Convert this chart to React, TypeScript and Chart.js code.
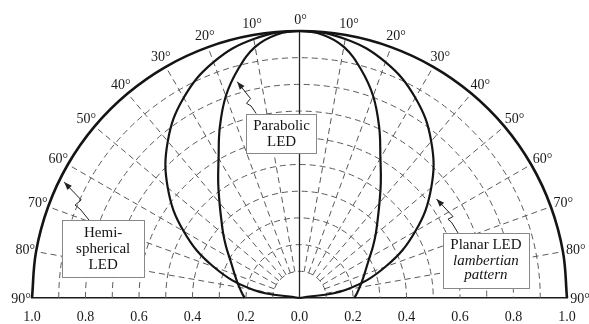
import React, { useEffect, useRef } from "react";
import { Chart, registerables } from "chart.js";

Chart.register(...registerables);

// ---- data ----
// angle tick labels around the semicircle (degrees from vertical, negative = left)
const angleTicks = [-90, -80, -70, -60, -50, -40, -30, -20, -10, 0, 10, 20, 30, 40, 50, 60, 70, 80, 90];
// dashed polar grid
const gridRadii = [0.1, 0.2, 0.3, 0.4, 0.5, 0.6, 0.7, 0.8, 0.9];
const gridAngles = [-80, -70, -60, -50, -40, -30, -20, -10, 10, 20, 30, 40, 50, 60, 70, 80];

// Hemispherical LED: relative intensity vs angle
const hemiAngles = [-90, -80, -70, -60, -50, -40, -30, -20, -10, 0, 10, 20, 30, 40, 50, 60, 70, 80, 90];
const hemiR = [1.0, 1.0, 1.0, 1.0, 1.0, 1.0, 1.0, 1.0, 1.0, 1.0, 1.0, 1.0, 1.0, 1.0, 1.0, 1.0, 1.0, 1.0, 1.0];

// Planar LED (lambertian pattern)
const lambAngles = [-90, -80, -70, -60, -50, -40, -30, -20, -10, 0, 10, 20, 30, 40, 50, 60, 70, 80, 90];
const lambR = [0.0, 0.174, 0.342, 0.5, 0.643, 0.766, 0.866, 0.94, 0.985, 1.0, 0.985, 0.94, 0.866, 0.766, 0.643, 0.5, 0.342, 0.174, 0.0];

// Parabolic LED
const paraAngles = [-90, -85, -80, -75, -70, -65, -60, -55, -50, -45, -40, -35, -30, -25, -20, -15, -10, -5, 0, 5, 10, 15, 20, 25, 30, 35, 40, 45, 50, 55, 60, 65, 70, 75, 80, 85, 90];
const paraR = [0.205, 0.216, 0.228, 0.242, 0.258, 0.277, 0.302, 0.335, 0.372, 0.413, 0.465, 0.53, 0.605, 0.705, 0.805, 0.887, 0.955, 0.99, 1.0, 0.99, 0.955, 0.887, 0.805, 0.705, 0.605, 0.53, 0.465, 0.413, 0.372, 0.335, 0.302, 0.277, 0.258, 0.242, 0.228, 0.216, 0.205];

// annotation texts
const paraLabel = ["Parabolic", "LED"];
const hemiLabel = ["Hemi-", "spherical", "LED"];
const planarLabel = ["Planar LED", "lambertian", "pattern"];

// annotation geometry (data units)
const boxes = [
  { lines: paraLabel, italic: [false, false], x0: -0.199, x1: 0.064, y0: 0.689, y1: 0.543, cx: -0.067, ly: [0.644, 0.584] },
  { lines: hemiLabel, italic: [false, false, false], x0: -0.888, x1: -0.581, y0: 0.292, y1: 0.079, cx: -0.734, ly: [0.245, 0.185, 0.125] },
  { lines: planarLabel, italic: [false, true, true], x0: 0.536, x1: 0.858, y0: 0.243, y1: 0.037, cx: 0.697, ly: [0.2, 0.137, 0.086] },
];
const arrows = [
  [[-0.233, 0.81], [-0.183, 0.747], [-0.198, 0.729], [-0.181, 0.719], [-0.162, 0.691]],
  [[-0.88, 0.434], [-0.816, 0.367], [-0.839, 0.348], [-0.82, 0.333], [-0.787, 0.292]],
  [[0.512, 0.371], [0.574, 0.305], [0.555, 0.295], [0.568, 0.284], [0.593, 0.243]],
];

const toXY = (angles: number[], rs: number[]) =>
  angles.map((a, i) => ({
    x: rs[i] * Math.sin((a * Math.PI) / 180),
    y: rs[i] * Math.cos((a * Math.PI) / 180),
  }));

const SERIF = "'Liberation Serif', 'DejaVu Serif', serif";

const polarPlugin = {
  id: "polarDeco",
  beforeDatasetsDraw(chart: any) {
    const { ctx, scales } = chart;
    const xs = scales.x, ys = scales.y;
    const cx = xs.getPixelForValue(0), cy = ys.getPixelForValue(0);
    const ux = xs.getPixelForValue(1) - cx, uy = cy - ys.getPixelForValue(1);
    ctx.save();
    ctx.strokeStyle = "#5a5a5a";
    ctx.lineWidth = 1;
    ctx.setLineDash([6, 4]);
    for (const r of gridRadii) {
      ctx.beginPath();
      ctx.ellipse(cx, cy, r * ux, r * uy, 0, Math.PI, 2 * Math.PI);
      ctx.stroke();
    }
    for (const a of gridAngles) {
      const s = Math.sin((a * Math.PI) / 180), c = Math.cos((a * Math.PI) / 180);
      ctx.beginPath();
      ctx.moveTo(cx + 0.1 * s * ux, cy - 0.1 * c * uy);
      ctx.lineTo(cx + 1.0 * s * ux, cy - 1.0 * c * uy);
      ctx.stroke();
    }
    ctx.setLineDash([]);
    ctx.strokeStyle = "#222";
    ctx.lineWidth = 1.3;
    ctx.beginPath();
    ctx.moveTo(cx, cy);
    ctx.lineTo(cx, ys.getPixelForValue(1));
    ctx.stroke();
    ctx.restore();
  },
  afterDatasetsDraw(chart: any) {
    const { ctx, scales } = chart;
    const xs = scales.x, ys = scales.y;
    const px = (v: number) => xs.getPixelForValue(v);
    const py = (v: number) => ys.getPixelForValue(v);
    ctx.save();
    // arrows
    ctx.strokeStyle = "#222";
    ctx.fillStyle = "#222";
    ctx.lineWidth = 1;
    for (const pts of arrows) {
      ctx.beginPath();
      pts.forEach((p, i) => {
        if (i === 0) ctx.moveTo(px(p[0]), py(p[1]));
        else ctx.lineTo(px(p[0]), py(p[1]));
      });
      ctx.stroke();
      const tx = px(pts[0][0]), ty = py(pts[0][1]);
      const ax = px(pts[1][0]), ay = py(pts[1][1]);
      const ang = Math.atan2(ty - ay, tx - ax);
      const L = 8, W = 3;
      ctx.beginPath();
      ctx.moveTo(tx, ty);
      ctx.lineTo(tx - L * Math.cos(ang) + W * Math.sin(ang), ty - L * Math.sin(ang) - W * Math.cos(ang));
      ctx.lineTo(tx - L * Math.cos(ang) - W * Math.sin(ang), ty - L * Math.sin(ang) + W * Math.cos(ang));
      ctx.closePath();
      ctx.fill();
    }
    // boxes
    for (const b of boxes) {
      const x0 = px(b.x0), x1 = px(b.x1), y0 = py(b.y0), y1 = py(b.y1);
      ctx.fillStyle = "#fff";
      ctx.fillRect(x0, y0, x1 - x0, y1 - y0);
      ctx.strokeStyle = "#888";
      ctx.lineWidth = 1;
      ctx.strokeRect(Math.round(x0) + 0.5, Math.round(y0) + 0.5, Math.round(x1 - x0), Math.round(y1 - y0));
      ctx.fillStyle = "#151515";
      ctx.textAlign = "center";
      ctx.textBaseline = "middle";
      b.lines.forEach((t, i) => {
        ctx.font = (b.italic[i] ? "italic " : "") + "15px " + SERIF;
        ctx.fillText(t, px(b.cx), py(b.ly[i]));
      });
    }
    ctx.restore();
  },
  afterDraw(chart: any) {
    const { ctx, scales } = chart;
    const xs = scales.x, ys = scales.y;
    const cx = xs.getPixelForValue(0), cy = ys.getPixelForValue(0);
    const ux = xs.getPixelForValue(1) - cx, uy = cy - ys.getPixelForValue(1);
    ctx.save();
    ctx.fillStyle = "#1a1a1a";
    ctx.font = "14px " + SERIF;
    ctx.textAlign = "center";
    ctx.textBaseline = "middle";
    const R = 1.045;
    for (const a of angleTicks) {
      const s = Math.sin((a * Math.PI) / 180), c = Math.cos((a * Math.PI) / 180);
      ctx.fillText(Math.abs(a) + "\u00b0", cx + R * s * ux + 1, cy - R * c * uy + 1);
    }
    ctx.restore();
  },
};

export default function App() {
  const ref = useRef<HTMLCanvasElement | null>(null);
  useEffect(() => {
    document.body.style.margin = "0";
    const canvas = ref.current;
    if (!canvas) return;
    const chart = new Chart(canvas, {
      type: "scatter",
      data: {
        datasets: [
          {
            label: "Hemispherical LED",
            data: toXY(hemiAngles, hemiR),
            showLine: true,
            pointRadius: 0,
            borderColor: "#141414",
            borderWidth: 2.6,
            tension: 0.4,
            clip: false as any,
          },
          {
            label: "Planar LED (lambertian)",
            data: toXY(lambAngles, lambR),
            showLine: true,
            pointRadius: 0,
            borderColor: "#141414",
            borderWidth: 2.2,
            tension: 0.4,
            clip: false as any,
          },
          {
            label: "Parabolic LED",
            data: toXY(paraAngles, paraR),
            showLine: true,
            pointRadius: 0,
            borderColor: "#141414",
            borderWidth: 2.2,
            tension: 0.4,
            clip: false as any,
          },
        ],
      },
      options: {
        responsive: false,
        animation: false,
        devicePixelRatio: 1,
        layout: { padding: { left: 32, right: 22, top: 31, bottom: 0 } },
        plugins: { legend: { display: false }, tooltip: { enabled: false } },
        scales: {
          x: {
            type: "linear",
            min: -1,
            max: 1,
            grid: { display: false, drawTicks: false },
            border: { display: true, color: "#1a1a1a", width: 1.6 },
            afterFit: (scale: any) => {
              scale.height = 26;
            },
            ticks: {
              stepSize: 0.2,
              autoSkip: false,
              maxRotation: 0,
              padding: 12,
              color: "#1a1a1a",
              font: { family: SERIF, size: 14, lineHeight: 1 },
              callback: (v: any) => Math.abs(Number(v)).toFixed(1),
            },
          },
          y: { type: "linear", min: 0, max: 1, display: false },
        },
      },
      plugins: [polarPlugin],
    });
    return () => chart.destroy();
  }, []);
  return (
    <div style={{ width: 589, height: 324 }}>
      <canvas ref={ref} width={589} height={324} style={{ display: "block" }} />
    </div>
  );
}
